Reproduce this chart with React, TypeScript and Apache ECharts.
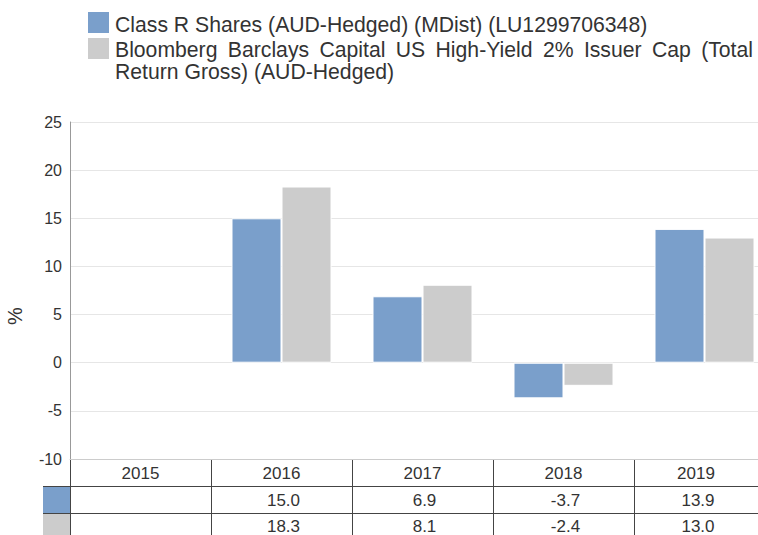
import React, { useEffect, useRef } from "react";
import * as echarts from "echarts";

const categories = ["2015", "2016", "2017", "2018", "2019"];
const classR: (number | null)[] = [null, 15.0, 6.9, -3.7, 13.9];
const benchmark: (number | null)[] = [null, 18.3, 8.1, -2.4, 13.0];
const seriesNames = [
  "Class R Shares (AUD-Hedged) (MDist) (LU1299706348)",
  "Bloomberg Barclays Capital US High-Yield 2% Issuer Cap (Total Return Gross) (AUD-Hedged)",
];
const colors = ["#7a9fcb", "#cccccc"];
const yMin = -10;
const yMax = 25;
const yInterval = 5;
const yAxisName = "%";

const FONT = "'Liberation Sans', Arial, sans-serif";
const TEXT_COLOR = "#333333";
const VIEW_W = 758;

function measure(text: string, size: number) {
  const ctx = document.createElement("canvas").getContext("2d")!;
  ctx.font = `${size}px ${FONT}`;
  return ctx.measureText(text).width;
}

export default function App() {
  const ref = useRef<HTMLDivElement>(null);
  useEffect(() => {
    if (!ref.current) return;
    const chart = echarts.init(ref.current, null, { renderer: "svg" });
    const W = 800;
    const H = 535;
    chart.setOption({
      animation: false,
      grid: {
        left: 70,
        right: W - 775,
        top: 122,
        bottom: H - 459,
        containLabel: false,
        outerBoundsMode: "none",
      },
      xAxis: {
        type: "category",
        data: categories,
        axisLine: { onZero: false, lineStyle: { color: "#cccccc" } },
        axisTick: { show: false },
        axisLabel: { show: false },
        splitLine: { show: false },
      },
      yAxis: {
        type: "value",
        min: yMin,
        max: yMax,
        interval: yInterval,
        axisLine: { show: true, lineStyle: { color: "#999999" } },
        axisTick: { show: false },
        axisLabel: { color: TEXT_COLOR, fontSize: 16, fontFamily: FONT, margin: 8 },
        splitLine: { lineStyle: { color: "#e6e6e6" } },
      },
      series: [
        {
          type: "bar",
          name: seriesNames[0],
          data: classR,
          barWidth: 50,
          barGap: "0%",
          itemStyle: { color: colors[0], borderColor: "#ffffff", borderWidth: 1 },
        },
        {
          type: "bar",
          name: seriesNames[1],
          data: benchmark,
          barWidth: 50,
          barGap: "0%",
          itemStyle: { color: colors[1], borderColor: "#ffffff", borderWidth: 1 },
        },
      ],
    });

    const g: any[] = [];
    const textX = 115;
    const rightX = 753;
    const targetLine1 = 533;
    const legendFont = Math.round(18 * targetLine1 / measure(seriesNames[0], 18) * 10) / 10;
    g.push({ type: "rect", shape: { x: 88, y: 12, width: 21, height: 21 }, style: { fill: colors[0] } });
    g.push({ type: "rect", shape: { x: 88, y: 38, width: 21, height: 21 }, style: { fill: colors[1] } });
    const ls = { fill: TEXT_COLOR, fontSize: legendFont, fontFamily: FONT, verticalAlign: "middle", align: "left" };
    g.push({ type: "text", x: textX, y: 24, style: { ...ls, text: seriesNames[0] } });
    const words = seriesNames[1].split(" ");
    const firstLineWords = words.slice(0, 9);
    const restWords = words.slice(9);
    const widths = firstLineWords.map((w) => measure(w, legendFont));
    const sum = widths.reduce((a, b) => a + b, 0);
    const gap = (rightX - textX - sum) / (firstLineWords.length - 1);
    let cx = textX;
    firstLineWords.forEach((w, i) => {
      g.push({ type: "text", x: cx, y: 49, style: { ...ls, text: w } });
      cx += widths[i] + gap;
    });
    g.push({ type: "text", x: textX, y: 71, style: { ...ls, text: restWords.join(" ") } });

    g.push({
      type: "text",
      x: 15,
      y: 316,
      rotation: Math.PI / 2,
      style: { text: yAxisName, fill: TEXT_COLOR, fontSize: 20, fontFamily: FONT, align: "center", verticalAlign: "middle" },
    });

    // Table
    const axisY = Math.round(chart.convertToPixel({ yAxisIndex: 0 }, yMin) as number);
    const centers = categories.map((c) => chart.convertToPixel({ xAxisIndex: 0 }, c) as number);
    const step = centers.length > 1 ? centers[1] - centers[0] : 100;
    const left = centers[0] - step / 2;
    const right = centers[centers.length - 1] + step / 2;
    const rowH = 27;
    const swatchX = 43;
    const lineStyle = { stroke: "#444444", lineWidth: 1 };
    for (let i = 0; i <= categories.length; i++) {
      const x = Math.round(left + i * step) + 0.5;
      g.push({ type: "line", shape: { x1: x, y1: axisY, x2: x, y2: axisY + rowH * 3 + 5 }, style: lineStyle });
    }
    for (let r = 1; r <= 2; r++) {
      const y = axisY + r * rowH + 0.5;
      g.push({ type: "line", shape: { x1: swatchX, y1: y, x2: right, y2: y }, style: lineStyle });
    }
    [0, 1].forEach((r) => {
      g.push({
        type: "rect",
        shape: { x: swatchX, y: axisY + (r + 1) * rowH + 1, width: 27, height: rowH - 1 },
        style: { fill: colors[r] },
        z: 1,
      });
    });
    const ts = { fill: TEXT_COLOR, fontSize: 17, fontFamily: FONT, align: "center", verticalAlign: "middle" };
    const rows = [classR, benchmark];
    const rowOffsets = [1, 0];
    categories.forEach((c, i) => {
      const l = left + i * step;
      const rgt = Math.min(l + step, VIEW_W);
      const mid = (l + rgt) / 2;
      g.push({ type: "text", x: mid, y: axisY + rowH / 2 + 0.5, style: { ...ts, text: c } });
      rows.forEach((row, r) => {
        const v = row[i];
        g.push({
          type: "text",
          x: mid + 2,
          y: axisY + rowH * (r + 1) + rowH / 2 + rowOffsets[r],
          style: { ...ts, text: v == null ? "" : v.toFixed(1) },
        });
      });
    });
    chart.setOption({ graphic: g });

    return () => chart.dispose();
  }, []);

  return (
    <div style={{ position: "fixed", left: 0, top: 0, width: VIEW_W, height: 535, overflow: "hidden", background: "#fff" }}>
      <div ref={ref} style={{ width: 800, height: 535 }} />
    </div>
  );
}
